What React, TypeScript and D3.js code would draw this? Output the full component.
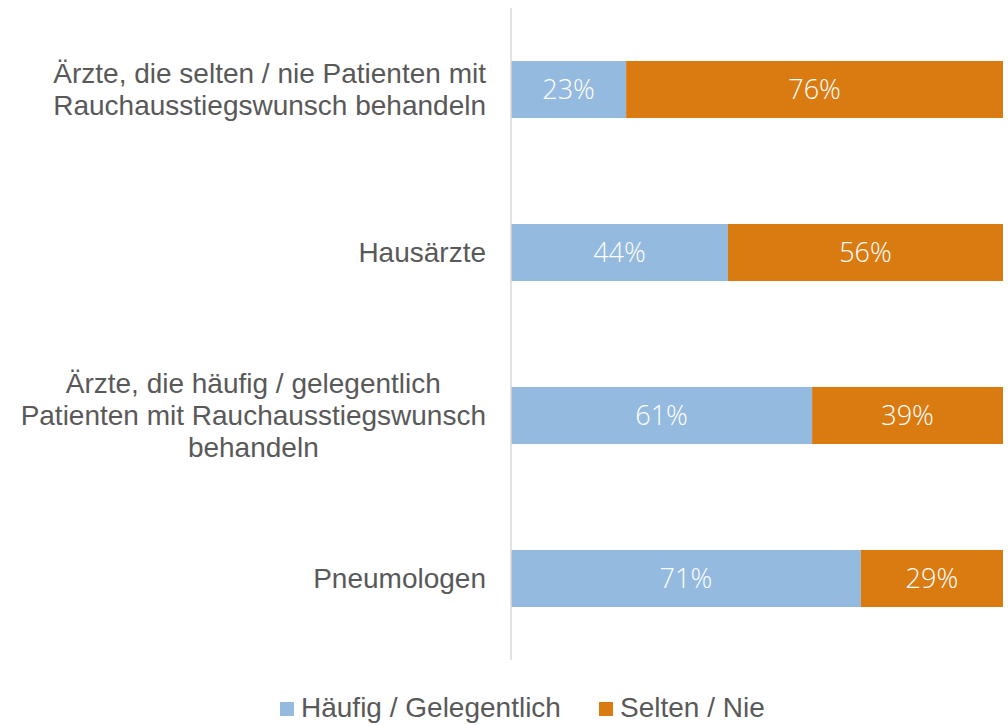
import React, { useRef, useEffect } from "react"
import * as d3 from "d3"

const categories = [
  ["Ärzte, die selten / nie Patienten mit", "Rauchausstiegswunsch behandeln"],
  ["Hausärzte"],
  ["Ärzte, die häufig / gelegentlich", "Patienten mit Rauchausstiegswunsch", "behandeln"],
  ["Pneumologen"],
]
const haeufig = [23.4, 44.1, 61.2, 71.1]
const selten = [76.6, 55.9, 38.8, 28.9]
const haeufigLabels = ["23%", "44%", "61%", "71%"]
const seltenLabels = ["76%", "56%", "39%", "29%"]
const seriesNames = ["Häufig / Gelegentlich", "Selten / Nie"]
const colors = ["#95BAE0", "#DA7B12"]

const App = () => {
  const svgRef = useRef(null)

  useEffect(() => {
    const width = 1008
    const height = 725
    const svg = d3.select(svgRef.current).attr("width", width).attr("height", height)
    svg.selectAll("*").remove()

    const x = d3.scaleLinear().domain([0, 100]).range([511, 1003])
    const y = d3
      .scaleBand()
      .domain(categories.map((d, i) => String(i)))
      .range([8, 660])
      .paddingInner(0.65)
      .paddingOuter(0.325)

    const rows = categories.map((c, i) => ({ i, c, h: haeufig[i], s: selten[i] }))

    // category labels: lines centred on each other, block right-aligned at 486
    const labelFont = "'Liberation Sans', Arial, sans-serif"
    const lineH = 32
    const lab = svg
      .append("g")
      .selectAll("text")
      .data(rows)
      .enter()
      .append("text")
      .attr("text-anchor", "middle")
      .attr("font-family", labelFont)
      .attr("font-size", 28)
      .attr("fill", "#595959")
    const spans = lab
      .selectAll("tspan")
      .data((d) => d.c.map((line, k) => ({ line, k, n: d.c.length, i: d.i })))
      .enter()
      .append("tspan")
      .attr("y", (d) => y(String(d.i)) + y.bandwidth() / 2 + (d.k - (d.n - 1) / 2) * lineH)
      .attr("dy", "0.35em")
      .text((d) => d.line)
    lab.each(function () {
      const ts = d3.select(this).selectAll("tspan")
      let maxW = 0
      ts.each(function () {
        maxW = Math.max(maxW, (this as SVGTextContentElement).getComputedTextLength())
      })
      ts.attr("x", 486 - maxW / 2)
    })

    // bars
    const g = svg.append("g")
    g.selectAll(".bar-h")
      .data(rows)
      .enter()
      .append("rect")
      .attr("x", x(0))
      .attr("y", (d) => y(String(d.i)))
      .attr("width", (d) => x(d.h) - x(0))
      .attr("height", y.bandwidth())
      .attr("fill", colors[0])
    g.selectAll(".bar-s")
      .data(rows)
      .enter()
      .append("rect")
      .attr("x", (d) => x(d.h))
      .attr("y", (d) => y(String(d.i)))
      .attr("width", (d) => x(d.h + d.s) - x(d.h))
      .attr("height", y.bandwidth())
      .attr("fill", colors[1])

    const valFont = "'Open Sans', sans-serif"
    g.selectAll(".lab-h")
      .data(rows)
      .enter()
      .append("text")
      .attr("x", (d) => (x(0) + x(d.h)) / 2)
      .attr("y", (d) => y(String(d.i)) + y.bandwidth() / 2)
      .attr("dy", "0.36em")
      .attr("text-anchor", "middle")
      .attr("font-family", valFont)
      .attr("font-weight", 300)
      .attr("font-size", 27)
      .attr("fill", "#ffffff")
      .text((d) => haeufigLabels[d.i])
    g.selectAll(".lab-s")
      .data(rows)
      .enter()
      .append("text")
      .attr("x", (d) => (x(d.h) + x(d.h + d.s)) / 2)
      .attr("y", (d) => y(String(d.i)) + y.bandwidth() / 2)
      .attr("dy", "0.36em")
      .attr("text-anchor", "middle")
      .attr("font-family", valFont)
      .attr("font-weight", 300)
      .attr("font-size", 27)
      .attr("fill", "#ffffff")
      .text((d) => seltenLabels[d.i])

    // axis line
    svg
      .append("line")
      .attr("x1", x(0))
      .attr("x2", x(0))
      .attr("y1", 8)
      .attr("y2", 660)
      .attr("stroke", "#d9d9d9")
      .attr("stroke-width", 1.5)

    // legend
    const legendX = [280, 599]
    const leg = svg
      .append("g")
      .selectAll("g")
      .data(seriesNames)
      .enter()
      .append("g")
      .attr("transform", (d, i) => `translate(${legendX[i]},0)`)
    leg
      .append("rect")
      .attr("x", 0)
      .attr("y", 702)
      .attr("width", 14)
      .attr("height", 14)
      .attr("fill", (d, i) => colors[i])
    leg
      .append("text")
      .attr("x", 21)
      .attr("y", 717)
      .attr("font-family", labelFont)
      .attr("font-size", 28)
      .attr("fill", "#595959")
      .text((d) => d)
  }, [])

  return (
    <div style={{ position: "absolute", left: 0, top: 0 }}>
      <svg ref={svgRef} style={{ display: "block" }}></svg>
    </div>
  )
}

export default App
